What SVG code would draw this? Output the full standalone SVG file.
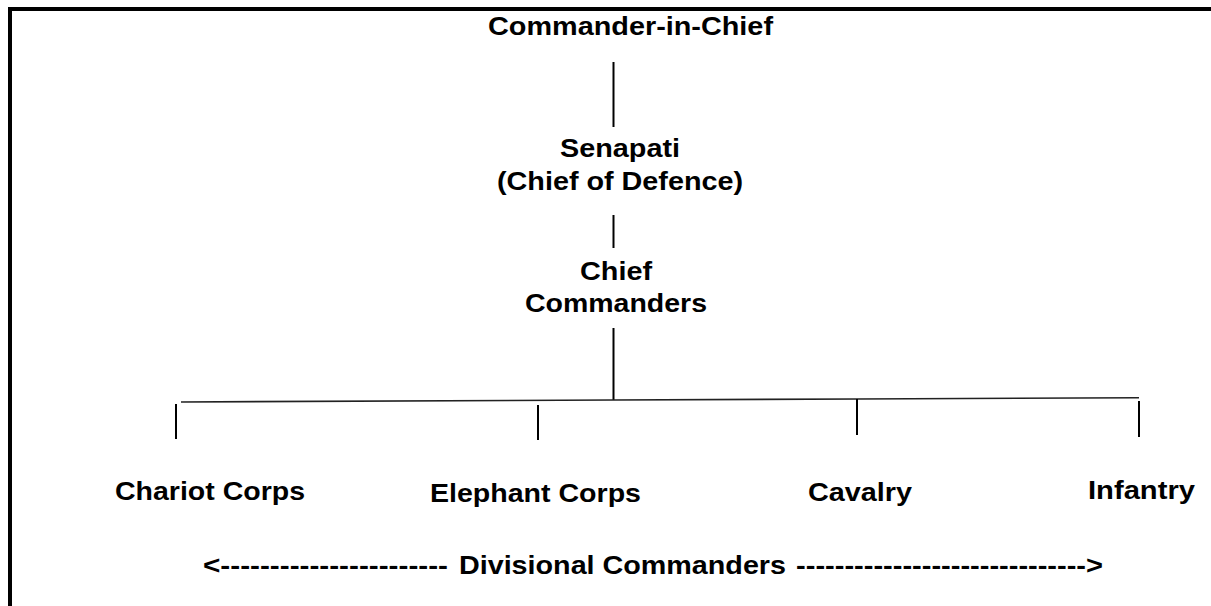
<svg xmlns="http://www.w3.org/2000/svg" width="1211" height="606" viewBox="0 0 1211 606">
<style>
.t{font-family:"Liberation Sans",Arial,sans-serif;font-weight:bold;font-size:25px;fill:#000}
.v{stroke:#000;stroke-width:2;fill:none}
.h{stroke:#222;stroke-width:1.6;fill:none}
</style>
<rect width="1211" height="606" fill="#fff"/>
<g id="frame">
<line x1="8" y1="9" x2="1211" y2="9" stroke="#000" stroke-width="4"/>
<line x1="10" y1="7" x2="10" y2="606" stroke="#000" stroke-width="4"/>
</g>
<g id="connectors">
<line class="v" x1="613.5" y1="62" x2="613.5" y2="127"/>
<line class="v" x1="613.5" y1="215" x2="613.5" y2="248"/>
<line class="v" x1="613.5" y1="328" x2="613.5" y2="400"/>
<polyline class="h" points="181,402 613,400 857,399 1139,397.7"/>
<line class="v" x1="176" y1="404" x2="176" y2="439"/>
<line class="v" x1="538" y1="405" x2="538" y2="440"/>
<line class="v" x1="857" y1="399" x2="857" y2="435"/>
<line class="v" x1="1139" y1="401" x2="1139" y2="437"/>
</g>
<g id="commander-in-chief"><text class="t" x="488" y="35" textLength="285" lengthAdjust="spacingAndGlyphs">Commander-in-Chief</text></g>
<g id="senapati">
<text class="t" x="560" y="157" textLength="120" lengthAdjust="spacingAndGlyphs">Senapati</text>
<text class="t" x="497" y="190" textLength="246" lengthAdjust="spacingAndGlyphs">(Chief of Defence)</text>
</g>
<g id="chief-commanders">
<text class="t" x="580" y="280" textLength="72" lengthAdjust="spacingAndGlyphs">Chief</text>
<text class="t" x="525" y="312" textLength="182" lengthAdjust="spacingAndGlyphs">Commanders</text>
</g>
<g id="chariot-corps"><text class="t" x="115" y="500" textLength="190" lengthAdjust="spacingAndGlyphs">Chariot Corps</text></g>
<g id="elephant-corps"><text class="t" x="430" y="502" textLength="211" lengthAdjust="spacingAndGlyphs">Elephant Corps</text></g>
<g id="cavalry"><text class="t" x="808" y="501" textLength="104" lengthAdjust="spacingAndGlyphs">Cavalry</text></g>
<g id="infantry"><text class="t" x="1088" y="499" textLength="107" lengthAdjust="spacingAndGlyphs">Infantry</text></g>
<g id="divisional-commanders">
<text class="t" y="574"><tspan x="203" textLength="245" lengthAdjust="spacingAndGlyphs">&lt;-----------------------</tspan><tspan x="451" textLength="335" lengthAdjust="spacingAndGlyphs"> Divisional Commanders</tspan><tspan x="788" textLength="315" lengthAdjust="spacingAndGlyphs"> ------------------------------&gt;</tspan></text>
</g>
</svg>
